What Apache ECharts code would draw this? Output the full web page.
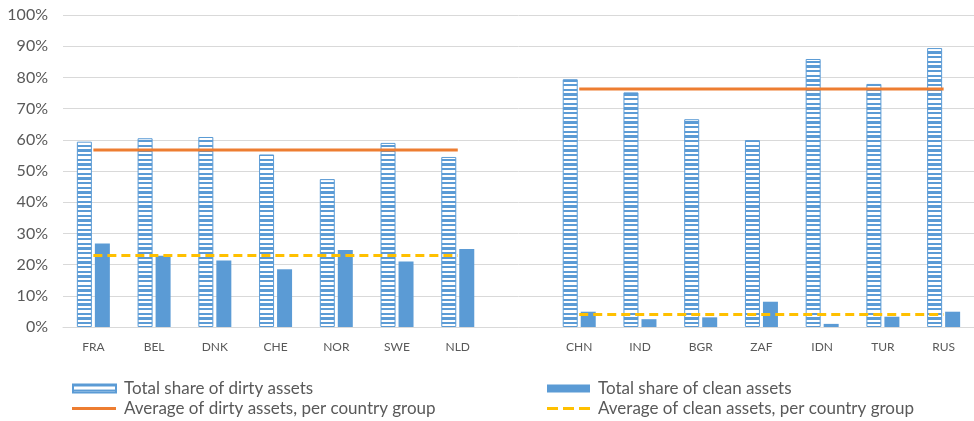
<!DOCTYPE html>
<html>
<head>
<meta charset="utf-8">
<script src="https://cdn.jsdelivr.net/npm/echarts@6/dist/echarts.min.js"></script>
<style>
  html, body { margin: 0; padding: 0; background: #fff; }
  #chart { width: 974px; height: 421px; }
</style>
</head>
<body>
<div id="chart"></div>
<script>
// categories (blank slot separates the two country groups)
const countries = ["FRA", "BEL", "DNK", "CHE", "NOR", "SWE", "NLD", "", "CHN", "IND", "BGR", "ZAF", "IDN", "TUR", "RUS"]

// values in %
const dirtyShare = [59.4, 60.5, 60.9, 55.3, 47.4, 59.0, 54.5, null, 79.4, 75.2, 66.6, 59.9, 85.9, 77.9, 89.4]
const cleanShare = [26.8, 22.8, 21.3, 18.5, 24.7, 21.0, 25.0, null, 4.9, 2.5, 3.1, 8.1, 1.0, 3.3, 4.9]
const dirtyAvg = [56.7, 56.7, 56.7, 56.7, 56.7, 56.7, 56.7, null, 76.3, 76.3, 76.3, 76.3, 76.3, 76.3, 76.3]
const cleanAvg = [22.9, 22.9, 22.9, 22.9, 22.9, 22.9, 22.9, null, 4.0, 4.0, 4.0, 4.0, 4.0, 4.0, 4.0]

const yTicks = [0, 10, 20, 30, 40, 50, 60, 70, 80, 90, 100]

const blue = "#5B9BD5"
const orange = "#ED7D31"
const yellow = "#FFC000"
const font = "Lato, 'Liberation Sans', sans-serif"

// horizontal stripe fill for the dirty bars
function stripes() {
	const c = document.createElement("canvas")
	c.width = 4
	c.height = 14
	const ctx = c.getContext("2d")
	ctx.fillStyle = "#fff"
	ctx.fillRect(0, 0, 4, 14)
	ctx.fillStyle = blue
	ctx.fillRect(0, 0, 4, 2)
	ctx.fillRect(0, 5, 4, 2)
	ctx.fillRect(0, 9, 4, 3)
	return { image: c, repeat: "repeat" }
}

const names = {
	dirty: "Total share of dirty assets",
	clean: "Total share of clean assets",
	dirtyAvg: "Average of dirty assets, per country group",
	cleanAvg: "Average of clean assets, per country group",
}

// one legend per entry, laid out like the 2x2 block under the chart
function legendAt(left, top, item, w, h) {
	return {
		left: left, top: top, padding: 0,
		itemWidth: w, itemHeight: h,
		textStyle: { fontSize: 17, color: "#595959", fontFamily: font, padding: [0, 0, 0, 3] },
		data: [item],
	}
}

const solidLine = "path://M0,0h44v3h-44z"
const dashLine = "path://M0,0h11v3h-11zM16,0h11v3h-11zM32,0h11v3h-11z"

const myChart = echarts.init(document.getElementById("chart"))

const option = {
	animation: false,
	textStyle: { fontFamily: font },
	grid: { left: 63, right: -3, top: 15, bottom: 94 },
	legend: [
		legendAt(72, 380, { name: names.dirty, icon: "rect" }, 43, 8),
		legendAt(72, 400, { name: names.dirtyAvg, icon: solidLine }, 44, 3),
		legendAt(547, 380, { name: names.clean, icon: "rect" }, 43, 8),
		legendAt(547, 400, { name: names.cleanAvg, icon: dashLine }, 43, 3),
	],
	xAxis: {
		type: "category",
		data: countries,
		axisTick: { show: false },
		axisLine: { lineStyle: { color: "#D9D9D9" } },
		axisLabel: { color: "#595959", fontSize: 12, margin: 14 },
	},
	yAxis: {
		type: "value",
		min: 0,
		max: 100,
		interval: 10,
		axisLabel: {
			color: "#595959",
			fontSize: 16,
			margin: 15,
			formatter: (v) => (yTicks.includes(v) ? v + "%" : ""),
		},
		splitLine: { lineStyle: { color: "#D9D9D9", width: 1 } },
	},
	series: [
		{
			name: names.dirty,
			type: "bar",
			data: dirtyShare,
			barWidth: 15,
			barGap: "20%",
			itemStyle: { color: stripes(), borderColor: blue, borderWidth: 1 },
		},
		{
			name: names.clean,
			type: "bar",
			data: cleanShare,
			barWidth: 15,
			itemStyle: { color: blue },
		},
		{
			name: names.dirtyAvg,
			type: "line",
			data: dirtyAvg,
			symbol: "none",
			itemStyle: { color: orange },
			lineStyle: { color: orange, width: 3 },
		},
		{
			name: names.cleanAvg,
			type: "line",
			data: cleanAvg,
			symbol: "none",
			itemStyle: { color: yellow },
			lineStyle: { color: yellow, width: 3, type: [9, 5] },
		},
	],
}

myChart.setOption(option)
</script>
</body>
</html>
